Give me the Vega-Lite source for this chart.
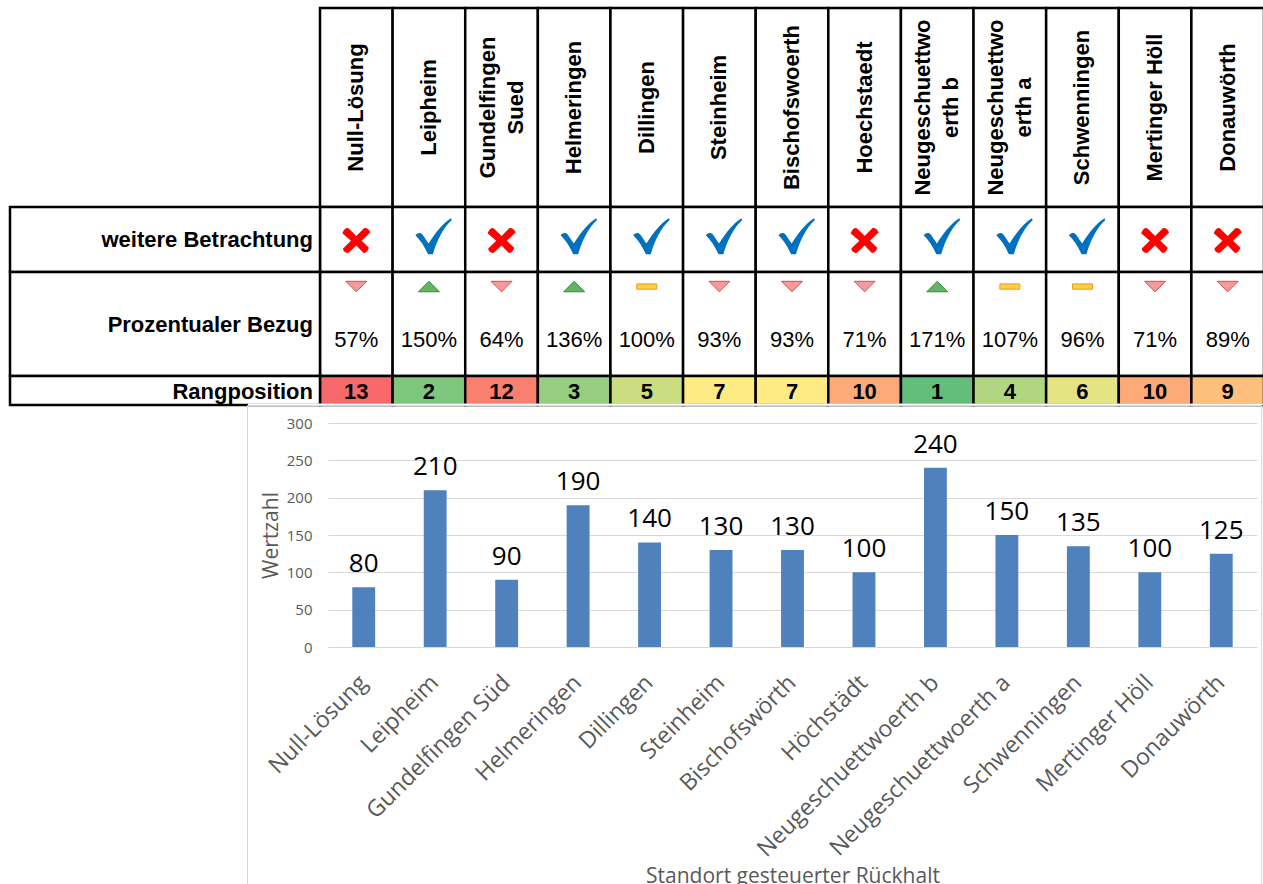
{
  "$schema": "https://vega.github.io/schema/vega-lite/v6.json",
  "width": 1263,
  "height": 884,
  "padding": 0,
  "autosize": {"type": "none"},
  "background": "white",
  "config": {"view": {"stroke": null}},
  "datasets": {
    "orte": [
      {"standort": "Null-Lösung", "kopf": "Null-Lösung", "weiter": "nein", "trend": "down", "pct": 0.57, "rang": 13, "wert": 80},
      {"standort": "Leipheim", "kopf": "Leipheim", "weiter": "ja", "trend": "up", "pct": 1.50, "rang": 2, "wert": 210},
      {"standort": "Gundelfingen Süd", "kopf": "Gundelfingen\nSued", "weiter": "nein", "trend": "down", "pct": 0.64, "rang": 12, "wert": 90},
      {"standort": "Helmeringen", "kopf": "Helmeringen", "weiter": "ja", "trend": "up", "pct": 1.36, "rang": 3, "wert": 190},
      {"standort": "Dillingen", "kopf": "Dillingen", "weiter": "ja", "trend": "flat", "pct": 1.00, "rang": 5, "wert": 140},
      {"standort": "Steinheim", "kopf": "Steinheim", "weiter": "ja", "trend": "down", "pct": 0.93, "rang": 7, "wert": 130},
      {"standort": "Bischofswörth", "kopf": "Bischofswoerth", "weiter": "ja", "trend": "down", "pct": 0.93, "rang": 7, "wert": 130},
      {"standort": "Höchstädt", "kopf": "Hoechstaedt", "weiter": "nein", "trend": "down", "pct": 0.71, "rang": 10, "wert": 100},
      {"standort": "Neugeschuettwoerth b", "kopf": "Neugeschuettwo\nerth b", "weiter": "ja", "trend": "up", "pct": 1.71, "rang": 1, "wert": 240},
      {"standort": "Neugeschuettwoerth a", "kopf": "Neugeschuettwo\nerth a", "weiter": "ja", "trend": "flat", "pct": 1.07, "rang": 4, "wert": 150},
      {"standort": "Schwenningen", "kopf": "Schwenningen", "weiter": "ja", "trend": "flat", "pct": 0.96, "rang": 6, "wert": 135},
      {"standort": "Mertinger Höll", "kopf": "Mertinger Höll", "weiter": "nein", "trend": "down", "pct": 0.71, "rang": 10, "wert": 100},
      {"standort": "Donauwörth", "kopf": "Donauwörth", "weiter": "nein", "trend": "down", "pct": 0.89, "rang": 9, "wert": 125}
    ]
  },
  "resolve": {"scale": {"x": "independent", "y": "independent", "color": "independent", "shape": "independent", "fill": "independent", "stroke": "independent"}},
  "layer": [
    {
      "data": {"name": "orte"},
      "encoding": {
        "x": {"field": "standort", "type": "nominal", "sort": null, "axis": null, "scale": {"type": "band", "range": [320, 1264], "paddingInner": 0, "paddingOuter": 0}},
        "y": {"datum": "kopf", "type": "nominal", "axis": null, "scale": {"type": "band", "domain": ["kopf"], "range": [8, 207], "paddingInner": 0, "paddingOuter": 0}}
      },
      "layer": [
        {"mark": {"type": "rect", "fill": "white", "stroke": "black", "strokeWidth": 2.5}},
        {"transform": [{"filter": "indexof(datum.kopf, '\\n') < 0"}],
         "mark": {"type": "text", "angle": 270, "align": "center", "baseline": "middle", "font": "Liberation Sans", "fontWeight": "bold", "fontSize": 22, "color": "black"},
         "encoding": {"text": {"field": "kopf"}}},
        {"transform": [{"filter": "indexof(datum.kopf, '\\n') >= 0"}],
         "mark": {"type": "text", "angle": 270, "align": "center", "baseline": "middle", "dy": -14, "lineBreak": "\n", "lineHeight": 28, "font": "Liberation Sans", "fontWeight": "bold", "fontSize": 22, "color": "black"},
         "encoding": {"text": {"field": "kopf"}}}
      ]
    },
    {
      "data": {"name": "orte"},
      "encoding": {
        "x": {"field": "standort", "type": "nominal", "sort": null, "axis": null, "scale": {"type": "band", "range": [320, 1264], "paddingInner": 0, "paddingOuter": 0}},
        "y": {"datum": "r1", "type": "nominal", "axis": null, "scale": {"type": "band", "domain": ["r1"], "range": [207, 272], "paddingInner": 0, "paddingOuter": 0}}
      },
      "layer": [
        {"mark": {"type": "rect", "fill": "white", "stroke": "black", "strokeWidth": 2.5}},
        {"transform": [{"filter": "datum.weiter === 'ja'"}],
         "mark": {"type": "point", "shape": "M -0.75 -0.05 C -0.62 -0.22 -0.45 -0.22 -0.35 -0.08 L -0.02 0.4 C 0.4 -0.25 0.8 -0.75 1.22 -1 L 1.27 -0.9 C 0.82 -0.5 0.45 0.2 0.22 1 L -0.05 1 C -0.25 0.55 -0.5 0.2 -0.75 -0.05 Z", "filled": true, "size": 1300, "color": "#0070C0", "opacity": 1, "strokeWidth": 0},
         "encoding": {"y": {"datum": "r1", "type": "nominal", "axis": null, "bandPosition": 0.45}}},
        {"transform": [{"filter": "datum.weiter === 'nein'"}],
         "mark": {"type": "point", "shape": "M -1 -0.5 C -0.85 -0.85 -0.65 -0.95 -0.5 -0.8 L 0 -0.3 L 0.55 -0.85 C 0.75 -0.95 0.95 -0.75 1 -0.55 L 0.38 0.05 L 0.9 0.55 C 0.85 0.8 0.65 0.95 0.5 0.9 L 0 0.38 L -0.55 0.9 C -0.75 0.95 -0.95 0.8 -0.95 0.6 L -0.38 0.05 Z", "filled": true, "size": 784, "color": "#FF0000", "opacity": 1, "strokeWidth": 0},
         "encoding": {"y": {"datum": "r1", "type": "nominal", "axis": null, "bandPosition": 0.51}}}
      ]
    },
    {
      "data": {"name": "orte"},
      "encoding": {
        "x": {"field": "standort", "type": "nominal", "sort": null, "axis": null, "scale": {"type": "band", "range": [320, 1264], "paddingInner": 0, "paddingOuter": 0}},
        "y": {"datum": "r2", "type": "nominal", "axis": null, "scale": {"type": "band", "domain": ["r2"], "range": [272, 376], "paddingInner": 0, "paddingOuter": 0}}
      },
      "layer": [
        {"mark": {"type": "rect", "fill": "white", "stroke": "black", "strokeWidth": 2.5}},
        {"mark": {"type": "point", "filled": true, "size": 441, "opacity": 1, "strokeWidth": 1},
         "encoding": {
           "y": {"datum": "r2", "type": "nominal", "axis": null, "bandPosition": 0.14},
           "shape": {"field": "trend", "type": "nominal", "legend": null, "scale": {"domain": ["down", "up", "flat"], "range": ["M -1 -0.5 L 1 -0.5 L 0 0.5 Z", "M -1 0.5 L 1 0.5 L 0 -0.5 Z", "M -0.95 -0.25 L 0.95 -0.25 L 0.95 0.25 L -0.95 0.25 Z"]}},
           "fill": {"field": "trend", "type": "nominal", "legend": null, "scale": {"domain": ["down", "up", "flat"], "range": ["#F39A9A", "#62B462", "#FFD04A"]}},
           "stroke": {"field": "trend", "type": "nominal", "legend": null, "scale": {"domain": ["down", "up", "flat"], "range": ["#D2504D", "#3A8A3A", "#F0980E"]}}
         }},
        {"mark": {"type": "text", "baseline": "alphabetic", "font": "Liberation Sans", "fontSize": 22, "color": "black"},
         "encoding": {
           "y": {"datum": "r2", "type": "nominal", "axis": null, "bandPosition": 0.72},
           "text": {"field": "pct", "type": "quantitative", "format": ".0%"}
         }}
      ]
    },
    {
      "data": {"name": "orte"},
      "encoding": {
        "x": {"field": "standort", "type": "nominal", "sort": null, "axis": null, "scale": {"type": "band", "range": [320, 1264], "paddingInner": 0, "paddingOuter": 0}},
        "y": {"datum": "r3", "type": "nominal", "axis": null, "scale": {"type": "band", "domain": ["r3"], "range": [376, 405], "paddingInner": 0, "paddingOuter": 0}}
      },
      "layer": [
        {"mark": {"type": "rect", "stroke": "black", "strokeWidth": 2.5},
         "encoding": {"color": {"field": "rang", "type": "quantitative", "legend": null, "scale": {"type": "linear", "domain": [1, 7, 13], "range": ["#63BE7B", "#FFEB84", "#F8696B"], "interpolate": "rgb"}}}},
        {"mark": {"type": "text", "baseline": "alphabetic", "font": "Liberation Sans", "fontWeight": "bold", "fontSize": 22, "color": "black"},
         "encoding": {
           "y": {"datum": "r3", "type": "nominal", "axis": null, "bandPosition": 0.8},
           "text": {"field": "rang", "type": "quantitative"}
         }}
      ]
    },
    {
      "data": {"values": [{"t": "weitere Betrachtung"}]},
      "encoding": {
        "x": {"datum": "l", "type": "nominal", "axis": null, "scale": {"type": "band", "domain": ["l"], "range": [10, 320], "paddingInner": 0, "paddingOuter": 0}},
        "y": {"datum": "r1", "type": "nominal", "axis": null, "scale": {"type": "band", "domain": ["r1"], "range": [207, 272], "paddingInner": 0, "paddingOuter": 0}}
      },
      "layer": [
        {"mark": {"type": "rect", "fill": "white", "stroke": "black", "strokeWidth": 2.5}},
        {"mark": {"type": "text", "align": "right", "baseline": "alphabetic", "dx": -7, "font": "Liberation Sans", "fontWeight": "bold", "fontSize": 22, "color": "black"},
         "encoding": {
           "x": {"datum": "l", "type": "nominal", "axis": null, "bandPosition": 1},
           "y": {"datum": "r1", "type": "nominal", "axis": null, "bandPosition": 0.615},
           "text": {"field": "t"}
         }}
      ]
    },
    {
      "data": {"values": [{"t": "Prozentualer Bezug"}]},
      "encoding": {
        "x": {"datum": "l", "type": "nominal", "axis": null, "scale": {"type": "band", "domain": ["l"], "range": [10, 320], "paddingInner": 0, "paddingOuter": 0}},
        "y": {"datum": "r2", "type": "nominal", "axis": null, "scale": {"type": "band", "domain": ["r2"], "range": [272, 376], "paddingInner": 0, "paddingOuter": 0}}
      },
      "layer": [
        {"mark": {"type": "rect", "fill": "white", "stroke": "black", "strokeWidth": 2.5}},
        {"mark": {"type": "text", "align": "right", "baseline": "alphabetic", "dx": -7, "font": "Liberation Sans", "fontWeight": "bold", "fontSize": 22, "color": "black"},
         "encoding": {
           "x": {"datum": "l", "type": "nominal", "axis": null, "bandPosition": 1},
           "y": {"datum": "r2", "type": "nominal", "axis": null, "bandPosition": 0.577},
           "text": {"field": "t"}
         }}
      ]
    },
    {
      "data": {"values": [{"t": "Rangposition"}]},
      "encoding": {
        "x": {"datum": "l", "type": "nominal", "axis": null, "scale": {"type": "band", "domain": ["l"], "range": [10, 320], "paddingInner": 0, "paddingOuter": 0}},
        "y": {"datum": "r3", "type": "nominal", "axis": null, "scale": {"type": "band", "domain": ["r3"], "range": [376, 405], "paddingInner": 0, "paddingOuter": 0}}
      },
      "layer": [
        {"mark": {"type": "rect", "fill": "white", "stroke": "black", "strokeWidth": 2.5}},
        {"mark": {"type": "text", "align": "right", "baseline": "alphabetic", "dx": -7, "font": "Liberation Sans", "fontWeight": "bold", "fontSize": 22, "color": "black"},
         "encoding": {
           "x": {"datum": "l", "type": "nominal", "axis": null, "bandPosition": 1},
           "y": {"datum": "r3", "type": "nominal", "axis": null, "bandPosition": 0.8},
           "text": {"field": "t"}
         }}
      ]
    },
    {
      "data": {"values": [{"t": "maske"}]},
      "mark": {"type": "rect", "fill": "white", "strokeWidth": 0},
      "encoding": {
        "x": {"datum": "m", "type": "nominal", "axis": null, "scale": {"type": "band", "domain": ["m"], "range": [248, 1264], "paddingInner": 0, "paddingOuter": 0}},
        "y": {"datum": "m", "type": "nominal", "axis": null, "scale": {"type": "band", "domain": ["m"], "range": [403.6, 405.2], "paddingInner": 0, "paddingOuter": 0}}
      }
    },
    {
      "data": {"values": [{"t": "rahmen"}]},
      "mark": {"type": "rect", "fill": "transparent", "stroke": "#D9D9D9", "strokeWidth": 1},
      "encoding": {
        "x": {"datum": "f", "type": "nominal", "axis": null, "scale": {"type": "band", "domain": ["f"], "range": [247.5, 1261.5], "paddingInner": 0, "paddingOuter": 0}},
        "y": {"datum": "f", "type": "nominal", "axis": null, "scale": {"type": "band", "domain": ["f"], "range": [405.5, 900], "paddingInner": 0, "paddingOuter": 0}}
      }
    },
    {
      "data": {"name": "orte"},
      "encoding": {
        "x": {"field": "standort", "type": "nominal", "sort": null,
              "scale": {"type": "band", "range": [328, 1257], "paddingInner": 0, "paddingOuter": 0},
              "axis": {"orient": "bottom", "offset": -237, "domain": true, "domainColor": "#D9D9D9", "domainWidth": 1, "ticks": false, "grid": false,
                       "labelAngle": -45, "labelFont": "Open Sans", "labelFontSize": 23, "labelColor": "#595959", "labelPadding": 24, "labelOffset": -8, "labelLimit": 500, "labelOverlap": false,
                       "title": "Standort gesteuerter Rückhalt", "titleFont": "Open Sans", "titleFontSize": 21, "titleFontWeight": "normal", "titleColor": "#595959", "titleY": 235, "titleBaseline": "alphabetic"}},
        "y": {"field": "wert", "type": "quantitative",
              "scale": {"domain": [0, 300], "range": [647, 423], "nice": false, "zero": true},
              "axis": {"orient": "left", "offset": -328, "values": [0, 50, 100, 150, 200, 250, 300], "grid": true, "gridColor": "#D9D9D9", "gridWidth": 1, "domain": false, "ticks": false, "tickSize": 0,
                       "labelFont": "Open Sans", "labelFontSize": 15, "labelColor": "#595959", "labelPadding": 16,
                       "title": "Wertzahl", "titleFont": "Open Sans", "titleFontSize": 21, "titleFontWeight": "normal", "titleColor": "#595959", "titleX": -51, "titleAngle": 270, "titleBaseline": "alphabetic", "titleAlign": "center"}}
      },
      "layer": [
        {"mark": {"type": "bar", "color": "#4F81BD", "width": {"band": 0.32}}},
        {"mark": {"type": "text", "baseline": "alphabetic", "dy": -15, "font": "Open Sans", "fontSize": 26, "color": "black"},
         "encoding": {"text": {"field": "wert", "type": "quantitative"}}}
      ]
    }
  ]
}
